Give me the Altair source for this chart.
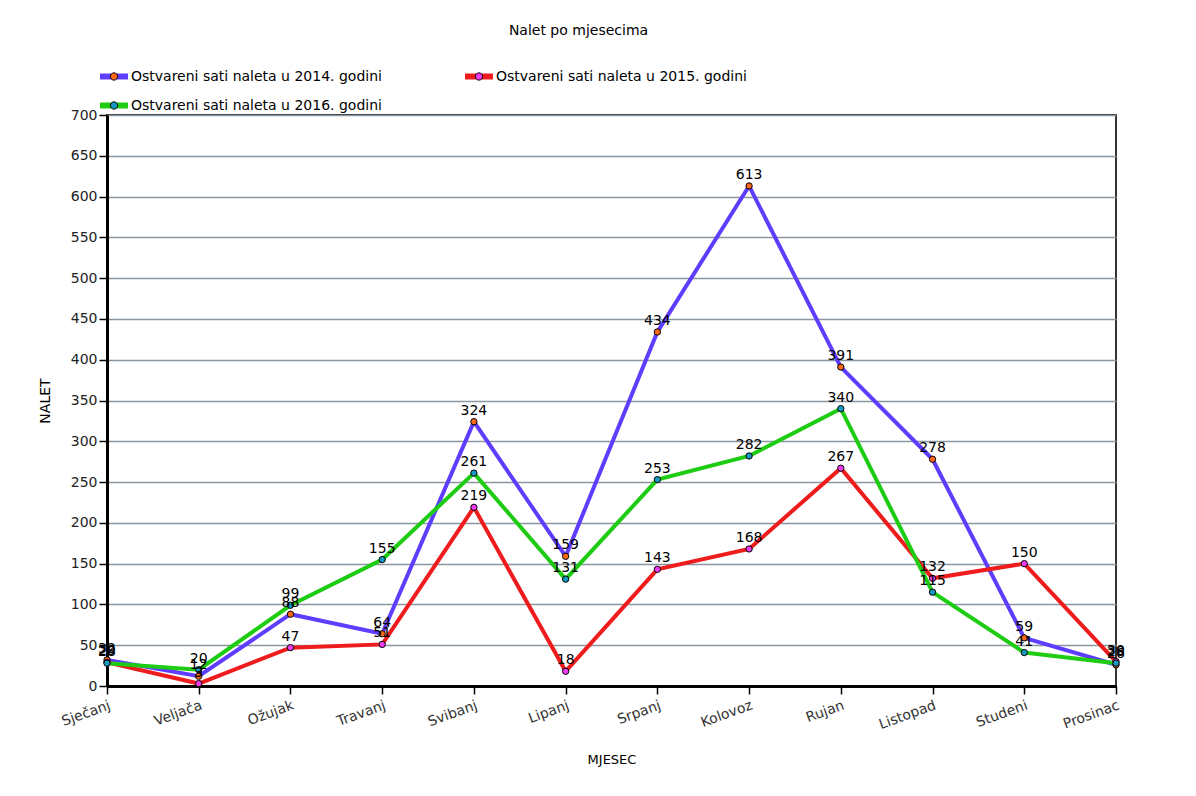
import altair as alt
import pandas as pd

months = ["Sječanj", "Veljača", "Ožujak", "Travanj", "Svibanj", "Lipanj",
          "Srpanj", "Kolovoz", "Rujan", "Listopad", "Studeni", "Prosinac"]
series_names = ["Ostvareni sati naleta u 2014. godini",
                "Ostvareni sati naleta u 2015. godini",
                "Ostvareni sati naleta u 2016. godini"]
v2014 = [32, 12, 88, 64, 324, 159, 434, 613, 391, 278, 59, 26]
v2015 = [29, 3, 47, 51, 219, 18, 143, 168, 267, 132, 150, 30]
v2016 = [28, 20, 99, 155, 261, 131, 253, 282, 340, 115, 41, 28]
y_ticks = list(range(0, 701, 50))

line_colors = ["#5f3dff", "#ee1c1c", "#1ecc14"]
marker_colors = ["#ff6a1a", "#f03cf0", "#1798c0"]

# legend is filled column by column: order so 2014 & 2015 share the first row
legend_order = [series_names[0], series_names[2], series_names[1]]
marker_order = ["m:" + s for s in legend_order]
line_range = [line_colors[0], line_colors[2], line_colors[1]]
marker_range = [marker_colors[0], marker_colors[2], marker_colors[1]]

rows = []
for name, vals in zip(series_names, [v2014, v2015, v2016]):
    for m, v in zip(months, vals):
        rows.append({"mjesec": m, "nalet": v, "serija": name, "serija_m": "m:" + name})
df = pd.DataFrame(rows)

FONT = "DejaVu Sans"

x_enc = alt.X("mjesec:N", sort=months, scale=alt.Scale(type="point", padding=0),
              axis=alt.Axis(title="MJESEC", labelAngle=340, labelAlign="right",
                            labelBaseline="top", labelFontSize=14, labelColor="#333",
                            labelPadding=4, tickSize=8, tickColor="black", tickWidth=1.5,
                            domainColor="black", domainWidth=3, titlePadding=22,
                            titleFontSize=13, titleFontWeight="normal", titleColor="black",
                            gridColor="#8c96a0", gridWidth=1.5))
y_enc = alt.Y("nalet:Q", scale=alt.Scale(domain=[0, 700], nice=False),
              axis=alt.Axis(title="NALET", values=y_ticks, labelFontSize=14,
                            labelColor="#222", tickSize=8, tickColor="black", tickWidth=1.5,
                            domainColor="black", domainWidth=3, labelPadding=2,
                            titlePadding=18, titleFontSize=14, titleFontWeight="normal",
                            titleColor="black", gridColor="#8c96a0", gridWidth=1.5))

base = alt.Chart(df).encode(x=x_enc, y=y_enc)

common_legend = dict(title=None, orient="none", legendX=-10, legendY=-53, columns=2,
                     labelFontSize=14, labelOffset=0, rowPadding=0, clipHeight=29,
                     columnPadding=80, labelLimit=400)

lines = base.mark_line(strokeWidth=4).encode(
    color=alt.Color("serija:N",
                    scale=alt.Scale(domain=legend_order, range=line_range),
                    legend=alt.Legend(symbolType="stroke", symbolSize=784,
                                      symbolStrokeWidth=6,
                                      labelColor="black", zindex=0, **common_legend))
)

points = base.mark_circle(size=40, stroke="black", strokeWidth=1, opacity=1).encode(
    fill=alt.Fill("serija_m:N",
                  scale=alt.Scale(domain=marker_order, range=marker_range),
                  legend=alt.Legend(
                      symbolType="M-0.22,0A0.22,0.22,0,1,1,0.22,0A0.22,0.22,0,1,1,-0.22,0Z",
                      symbolSize=1089,
                      symbolStrokeColor="black", symbolStrokeWidth=1, symbolOpacity=1,
                      labelExpr="slice(datum.label, 2)",
                      labelColor="transparent", zindex=2, **common_legend))
)

labels = base.mark_text(dy=-11, fontSize=14, color="black", font=FONT).encode(
    text=alt.Text("nalet:Q"),
    detail="serija:N"
)

chart = alt.layer(lines, points, labels).properties(
    width=1009, height=571,
    title=alt.TitleParams("Nalet po mjesecima", fontSize=14, fontWeight="normal",
                          color="black", font=FONT, anchor="middle", dx=-33, offset=24),
    autosize=alt.AutoSizeParams(type="none"),
    padding={"left": 99, "top": 107, "right": 72, "bottom": 102},
    background="white"
).configure(font=FONT).configure_view(stroke="#333", strokeWidth=2)

chart.save("out.html", embed_options={"renderer": "svg", "actions": False})
